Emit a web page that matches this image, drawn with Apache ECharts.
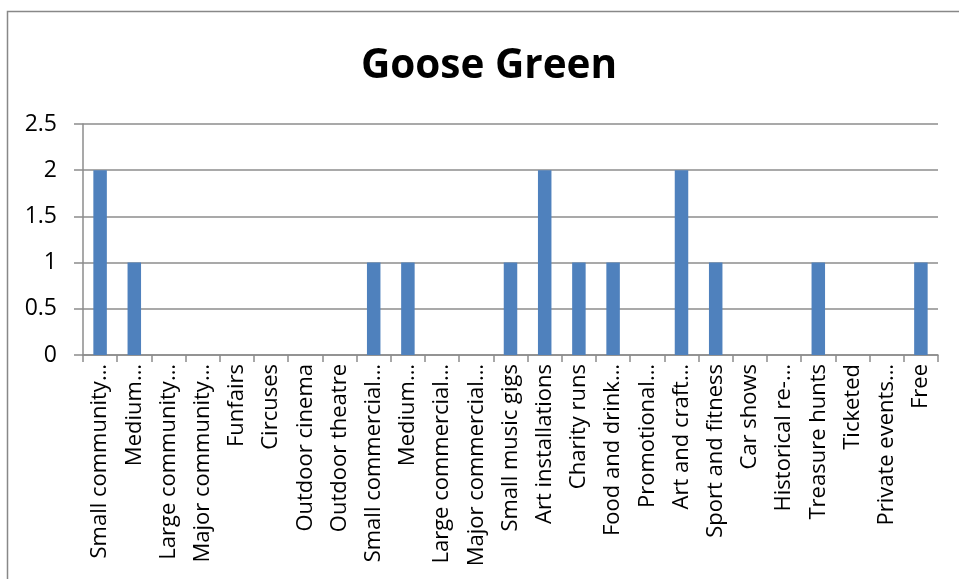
<!DOCTYPE html>
<html><head><meta charset="utf-8">
<script src="https://cdn.jsdelivr.net/npm/echarts@6/dist/echarts.min.js"></script>
<style>html,body{margin:0;padding:0;background:#fff}#c{width:959px;height:579px}</style>
</head><body><div id="c"></div>
<script>
const categories = ["Small community…","Medium…","Large community…","Major community…","Funfairs","Circuses","Outdoor cinema","Outdoor theatre","Small commercial…","Medium…","Large commercial…","Major commercial…","Small music gigs","Art installations","Charity runs","Food and drink…","Promotional…","Art and craft…","Sport and fitness","Car shows","Historical re-…","Treasure hunts","Ticketed","Private events…","Free"];
const values = [2,1,0,0,0,0,0,0,1,1,0,0,1,2,1,1,0,2,1,0,0,1,0,0,1];
const yTicks = {min:0,max:2.5,interval:0.5};
const titleText = "Goose Green";
const FONT = "Open Sans";
const chart = echarts.init(document.getElementById('c'));
chart.setOption({
  animation:false,
  backgroundColor:'#fff',
  graphic:[{type:'rect',shape:{x:7.5,y:11.5,width:1000,height:700},style:{fill:'none',stroke:'#888',lineWidth:1.5},z:-1}],
  title:{text:titleText,top:41,left:484,textAlign:'center',textStyle:{fontFamily:FONT,fontWeight:'bold',fontSize:40.5,color:'#000'}},
  grid:{left:83,right:21,top:124,bottom:224,containLabel:false},
  xAxis:{type:'category',data:categories,boundaryGap:true,
    axisLine:{lineStyle:{color:'#8c8c8c',width:1.5}},
    axisTick:{show:true,interval:0,length:7,lineStyle:{color:'#8c8c8c',width:1.5}},
    axisLabel:{interval:0,rotate:90,margin:9,color:'#000',fontFamily:FONT,fontSize:22}},
  yAxis:{type:'value',min:yTicks.min,max:yTicks.max,interval:yTicks.interval,
    axisLine:{show:true,lineStyle:{color:'#8c8c8c',width:1.5}},
    axisTick:{show:true,length:9,lineStyle:{color:'#8c8c8c',width:1.5}},
    splitLine:{lineStyle:{color:'#8c8c8c',width:1.5}},
    axisLabel:{margin:26,color:'#000',fontFamily:FONT,fontSize:23}},
  series:[{type:'bar',data:values,barWidth:13.5,itemStyle:{color:'#4f81bd'}}]
});
</script></body></html>
